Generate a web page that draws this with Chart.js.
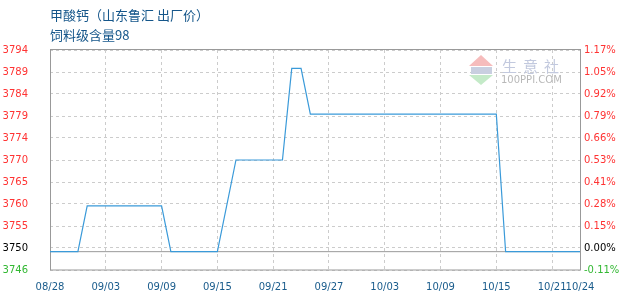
<!DOCTYPE html>
<html>
<head>
<meta charset="utf-8">
<script src="https://cdn.jsdelivr.net/npm/chart.js@4.4.1/dist/chart.umd.min.js"></script>
<style>
html, body { margin: 0; padding: 0; background: #fff; }
#wrap { position: relative; width: 630px; height: 300px; }
</style>
</head>
<body>
<div id="wrap"><canvas id="chart1" width="630" height="300"></canvas></div>
<script>
const titleLine1 = '甲酸钙（山东鲁汇 出厂价）';
const titleLine2 = '饲料级含量98';

// price points (only the turning points)
const dates = ['08/28', '08/31', '09/01', '09/09', '09/10', '09/15', '09/17', '09/22', '09/23', '09/24', '09/25', '10/15', '10/16', '10/24'];
const prices = [3750, 3750, 3760, 3760, 3750, 3750, 3770, 3770, 3790, 3790, 3780, 3780, 3750, 3750];

// grey reference line at the first price
const baseDates = ['08/28', '10/24'];
const basePrices = [3750, 3750];

const xTickLabels = ['08/28', '09/03', '09/09', '09/15', '09/21', '09/27', '10/03', '10/09', '10/15', '10/21', '10/24'];
const yMin = 3746;
const yMax = 3794;
const leftTickLabels = ['3746', '3750', '3755', '3760', '3765', '3770', '3774', '3779', '3784', '3789', '3794'];
const rightTickLabels = ['-0.11%', '0.00%', '0.15%', '0.28%', '0.41%', '0.53%', '0.66%', '0.79%', '0.92%', '1.05%', '1.17%'];

function dayIndex(s) {
    let p = s.split('/');
    let t = Date.UTC(2000, Number(p[0]) - 1, Number(p[1]));
    return Math.round((t - Date.UTC(2000, 7, 28)) / 86400000);
}

function toPoints(xs, ys) {
    return xs.map((d, i) => ({x: dayIndex(d), y: ys[i]}));
}

function tickColor(ctx) {
    if (ctx.index === 0) return '#33b833';
    if (ctx.index === 1) return '#000000';
    return '#ff3333';
}

const yTickValues = leftTickLabels.map((l, i) => yMin + i * (yMax - yMin) / (leftTickLabels.length - 1));

const tickFont = {family: 'DejaVu Sans', size: 10};

const framePlugin = {
    id: 'frame',
    beforeDatasetsDraw(chart) {
        const c = chart.ctx;
        const a = chart.chartArea;
        c.save();
        // watermark
        c.fillStyle = '#f6bcbc';
        c.beginPath();
        c.moveTo(481, 55); c.lineTo(493, 66); c.lineTo(469, 66); c.closePath(); c.fill();
        c.fillStyle = '#c9cfe0';
        c.fillRect(471, 67, 21, 7);
        c.fillStyle = '#c4eac8';
        c.beginPath();
        c.moveTo(469, 75); c.lineTo(493, 75); c.lineTo(481, 85); c.closePath(); c.fill();
        c.fillStyle = '#c2c9de';
        c.font = '15px "Noto Sans CJK SC"';
        c.textBaseline = 'middle';
        ['生', '意', '社'].forEach((ch, i) => c.fillText(ch, 502 + i * 21, 66));
        c.fillStyle = '#b8b8b8';
        c.font = '10px "DejaVu Sans"';
        c.fillText('100PPI.COM', 501, 80.5);
        // frame
        c.strokeStyle = '#999999';
        c.lineWidth = 1;
        c.strokeRect(Math.round(a.left) + 0.5, Math.round(a.top) - 0.5, Math.round(a.right - a.left), Math.round(a.bottom - a.top) + 0.5);
        c.restore();
    },
    afterDraw(chart) {
        const c = chart.ctx;
        c.save();
        c.fillStyle = '#15568a';
        c.font = '13px "Noto Sans CJK SC"';
        c.textBaseline = 'middle';
        c.fillText(titleLine1, 50, 15);
        c.fillText(titleLine2, 50, 35);
        c.restore();
    }
};

var ctx = document.getElementById('chart1').getContext('2d');

var myChart = new Chart(ctx, {
    type: 'line',
    data: {
        datasets: [
            {
                data: toPoints(dates, prices),
                borderColor: '#3a9ad9',
                borderWidth: 1.2,
                pointRadius: 0,
                fill: false,
                tension: 0,
                yAxisID: 'y'
            },
            {
                data: toPoints(baseDates, basePrices),
                borderColor: '#999999',
                borderWidth: 1,
                pointRadius: 0,
                fill: false,
                yAxisID: 'y'
            }
        ]
    },
    options: {
        responsive: false,
        animation: false,
        devicePixelRatio: 1,
        layout: {padding: {top: 50, left: 0, right: 0, bottom: 0}},
        plugins: {
            legend: {display: false},
            tooltip: {enabled: false}
        },
        scales: {
            x: {
                type: 'linear',
                min: 0,
                max: dayIndex('10/24'),
                afterBuildTicks: (axis) => {
                    axis.ticks = xTickLabels.map(l => ({value: dayIndex(l)}));
                },
                afterFit: (axis) => { axis.height = 30; },
                ticks: {
                    autoSkip: false,
                    maxRotation: 0,
                    padding: 11,
                    color: '#1a5c8c',
                    font: tickFont,
                    callback: (v, i) => xTickLabels[i]
                },
                grid: {color: '#cccccc', lineWidth: 1, drawTicks: false},
                border: {display: false, dash: [3, 3]}
            },
            y: {
                position: 'left',
                min: yMin,
                max: yMax,
                afterBuildTicks: (axis) => {
                    axis.ticks = yTickValues.map(v => ({value: v}));
                },
                afterFit: (axis) => { axis.width = 50; },
                ticks: {
                    autoSkip: false,
                    padding: 22,
                    color: tickColor,
                    font: tickFont,
                    callback: (v, i) => leftTickLabels[i]
                },
                grid: {color: '#cccccc', lineWidth: 1, drawTicks: false},
                border: {display: false, dash: [3, 3]}
            },
            y2: {
                position: 'right',
                min: yMin,
                max: yMax,
                afterBuildTicks: (axis) => {
                    axis.ticks = yTickValues.map(v => ({value: v}));
                },
                afterFit: (axis) => { axis.width = 50; },
                ticks: {
                    autoSkip: false,
                    padding: 4,
                    color: tickColor,
                    font: tickFont,
                    callback: (v, i) => rightTickLabels[i]
                },
                grid: {display: false, drawTicks: false},
                border: {display: false}
            }
        }
    },
    plugins: [framePlugin]
});
</script>
</body>
</html>
